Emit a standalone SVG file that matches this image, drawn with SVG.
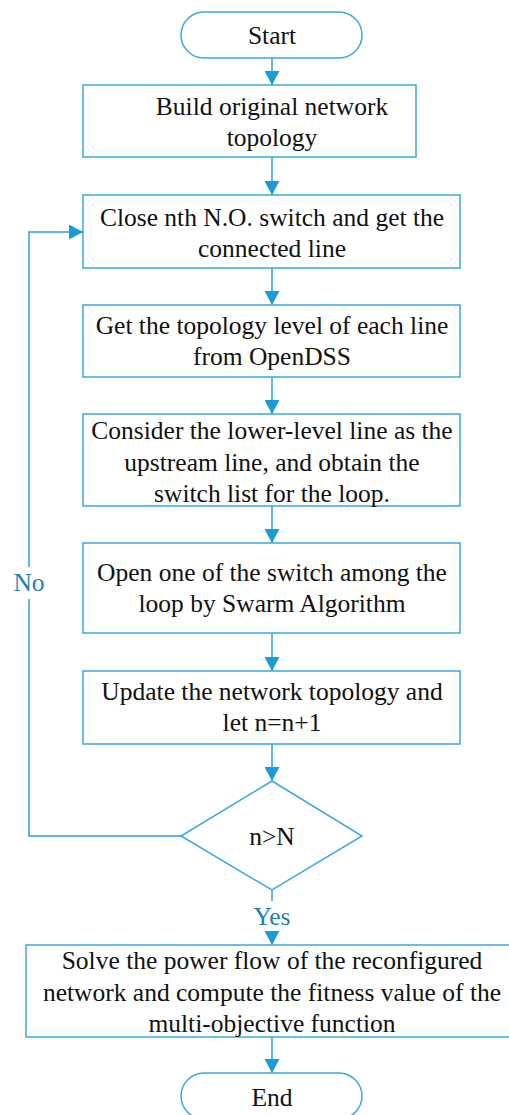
<svg xmlns="http://www.w3.org/2000/svg" width="509" height="1115" viewBox="0 0 509 1115">
  <style>
    .shape { fill: #ffffff; stroke: #3aa8e2; stroke-width: 1.5; }
    .wire { fill: none; stroke: #2a9fdc; stroke-width: 1.5; }
    .label { font-family: "Liberation Serif", "Times New Roman", serif; font-size: 25.5px; fill: #111111; text-anchor: middle; }
    .branch { font-family: "Liberation Serif", "Times New Roman", serif; font-size: 25.5px; fill: #1f7fb8; text-anchor: middle; }
  </style>
  <defs>
    <marker id="arrow" viewBox="0 0 14 15" refX="14" refY="7.5" markerWidth="14" markerHeight="15" markerUnits="userSpaceOnUse" orient="auto">
      <path d="M0,0 L14,7.5 L0,15 Z" fill="#1b9ad8"/>
    </marker>
  </defs>
  <rect width="509" height="1115" fill="#ffffff"/>

  <g id="connectors">
    <line class="wire" x1="272" y1="58" x2="272" y2="85" marker-end="url(#arrow)"/>
    <line class="wire" x1="272" y1="157" x2="272" y2="195" marker-end="url(#arrow)"/>
    <line class="wire" x1="272" y1="268" x2="272" y2="305" marker-end="url(#arrow)"/>
    <line class="wire" x1="272" y1="377" x2="272" y2="414" marker-end="url(#arrow)"/>
    <line class="wire" x1="272" y1="506" x2="272" y2="543" marker-end="url(#arrow)"/>
    <line class="wire" x1="272" y1="633" x2="272" y2="671" marker-end="url(#arrow)"/>
    <line class="wire" x1="272" y1="744" x2="272" y2="781" marker-end="url(#arrow)"/>
    <!-- "Yes" branch: the line breaks around its label -->
    <line class="wire" x1="272" y1="890" x2="272" y2="901"/>
    <line class="wire" x1="272" y1="931" x2="272" y2="945" marker-end="url(#arrow)"/>
    <line class="wire" x1="272" y1="1037" x2="272" y2="1073" marker-end="url(#arrow)"/>
    <!-- "No" branch loops back up to the switch step, broken around its label -->
    <path class="wire" d="M181,836 H29 V599 M29,567 V232 H83" marker-end="url(#arrow)"/>
    <text class="branch" x="29" y="591">No</text>
    <text class="branch" x="272" y="925">Yes</text>
  </g>

  <g id="start">
    <rect class="shape" x="181" y="12" width="181" height="46" rx="23" ry="23"/>
    <text class="label" x="272" y="44">Start</text>
  </g>

  <g id="build-topology">
    <rect class="shape" x="83" y="85" width="333" height="72"/>
    <text class="label" x="272" y="115">Build original network</text>
    <text class="label" x="272" y="146">topology</text>
  </g>

  <g id="close-switch">
    <rect class="shape" x="83" y="195" width="377" height="73"/>
    <text class="label" x="272" y="226">Close nth N.O. switch and get the</text>
    <text class="label" x="272" y="257">connected line</text>
  </g>

  <g id="topology-level">
    <rect class="shape" x="83" y="305" width="377" height="72"/>
    <text class="label" x="272" y="334">Get the topology level of each line</text>
    <text class="label" x="272" y="365">from OpenDSS</text>
  </g>

  <g id="switch-list">
    <rect class="shape" x="83" y="414" width="377" height="92"/>
    <text class="label" x="272" y="439">Consider the lower-level line as the</text>
    <text class="label" x="272" y="471">upstream line, and obtain the</text>
    <text class="label" x="272" y="502">switch list for the loop.</text>
  </g>

  <g id="open-switch">
    <rect class="shape" x="83" y="543" width="377" height="90"/>
    <text class="label" x="272" y="581">Open one of the switch among the</text>
    <text class="label" x="272" y="612">loop by Swarm Algorithm</text>
  </g>

  <g id="update-topology">
    <rect class="shape" x="83" y="671" width="377" height="73"/>
    <text class="label" x="272" y="700">Update the network topology and</text>
    <text class="label" x="272" y="731">let n=n+1</text>
  </g>

  <g id="check-n">
    <polygon class="shape" points="272,781 362,836 272,890 181,836"/>
    <text class="label" x="272" y="845">n&gt;N</text>
  </g>

  <g id="power-flow">
    <rect class="shape" x="26" y="945" width="485" height="92"/>
    <text class="label" x="272" y="969">Solve the power flow of the reconfigured</text>
    <text class="label" x="272" y="1001">network and compute the fitness value of the</text>
    <text class="label" x="272" y="1032">multi-objective function</text>
  </g>

  <g id="end">
    <rect class="shape" x="181" y="1073" width="181" height="46" rx="23" ry="23"/>
    <text class="label" x="272" y="1106">End</text>
  </g>
</svg>
